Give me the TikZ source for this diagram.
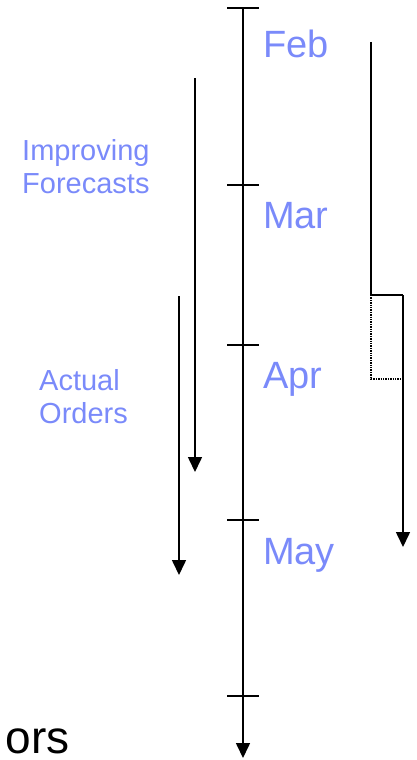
\documentclass[tikz,border=0pt]{standalone}
\usepackage{fontspec}
\setmainfont{Liberation Sans}
\usetikzlibrary{arrows.meta}
\definecolor{monthblue}{RGB}{122,138,250}
\begin{document}
\begin{tikzpicture}[x=1pt,y=-1pt,
  rule/.style={line width=1.6pt},
  flow/.style={line width=1.6pt,-{Triangle[length=15pt,width=14pt]}},
  month/.style={text=monthblue,font=\fontsize{38}{42}\selectfont,anchor=base west,inner sep=0pt},
  note/.style={text=monthblue,font=\fontsize{29}{33}\selectfont,align=left,anchor=base west,inner sep=0pt}]
\useasboundingbox (0,0) rectangle (417,760);
% time axis with month ticks
\coordinate (top) at (243,8);
\coordinate (bottom) at (243,758);
\draw[flow] (top) -- (bottom);
\foreach \y/\n in {8/t1,185/t2,345/t3,520/t4,696/t5}{
  \coordinate (\n l) at (227,\y);
  \coordinate (\n r) at (259,\y);
  \draw[rule] (\n l) -- (\n r);
}
\node[month] (feb) at (263,58) {Feb};
\node[month] (mar) at (263,228) {Mar};
\node[month] (apr) at (263,388) {Apr};
\node[month] (may) at (263,564) {May};
% forecast and order flows (anchored at the baseline of the last line)
\node[note] (impr) at (22,193) {Improving\\Forecasts};
\node[note] (act) at (39,423) {Actual\\Orders};
\coordinate (fs) at (195,78);
\coordinate (fe) at (195,472);
\draw[flow] (fs) -- (fe);
\coordinate (as) at (179,296);
\coordinate (ae) at (179,575);
\draw[flow] (as) -- (ae);
% stepped lead-time line
\coordinate (ls) at (371,42);
\coordinate (lk) at (371,295);
\coordinate (lj) at (403,295);
\coordinate (le) at (403,547);
\draw[line width=1.6pt] (ls) -- (lk) -- (lj);
\draw[flow] (lj) -- (le);
\coordinate (dk) at (371,379);
\coordinate (dj) at (403,379);
\draw[line width=1.4pt,densely dotted] (lk) -- (dk) -- (dj);
% caption at the lower left edge
\node[anchor=base east,inner sep=0pt,font=\fontsize{46}{50}\selectfont] (cap) at (70,753) {ors};
\end{tikzpicture}
\end{document}
